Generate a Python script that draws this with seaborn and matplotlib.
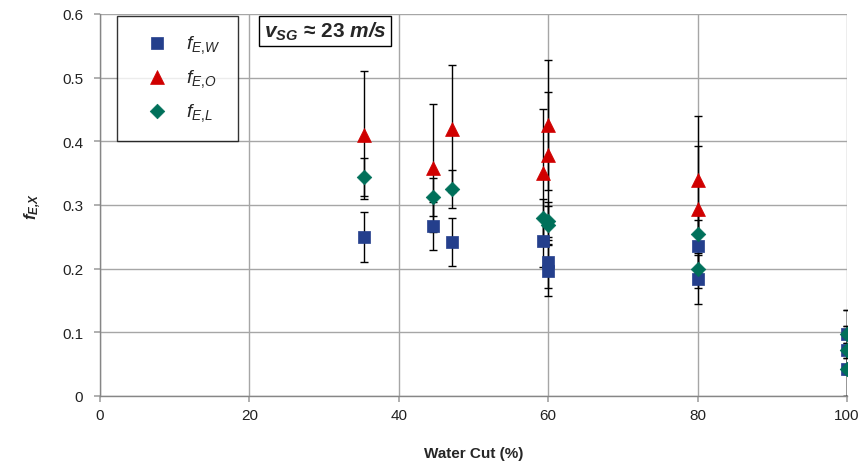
import numpy as np
import pandas as pd
import matplotlib
matplotlib.use("Agg")
import matplotlib.pyplot as plt
import seaborn as sns

# ---- data ----
water_cut = [35.4, 44.6, 47.1, 59.3, 60.0, 60.0, 80.0, 80.0, 100.0, 100.0, 100.0]
f_ew = [0.250, 0.267, 0.242, 0.243, 0.210, 0.197, 0.236, 0.183, 0.097, 0.072, 0.042]
f_ew_err = [0.039, 0.038, 0.038, 0.040, 0.040, 0.040, 0.040, 0.038, 0.038, 0.038, 0.042]
f_eo = [0.410, 0.358, 0.420, 0.350, 0.425, 0.378, 0.340, 0.293, np.nan, np.nan, np.nan]
f_eo_err = [0.100, 0.100, 0.100, 0.100, 0.102, 0.100, 0.100, 0.100, np.nan, np.nan, np.nan]
f_el = [0.344, 0.312, 0.325, 0.280, 0.275, 0.268, 0.254, 0.200, 0.097, 0.072, 0.042]
f_el_err = [0.030, 0.030, 0.030, 0.030, 0.030, 0.030, 0.030, 0.030, 0.038, 0.038, 0.042]

series_names = ["$f_{E{,}W}$", "$f_{E{,}O}$", "$f_{E{,}L}$"]
colors = ["#243F8C", "#D00000", "#00705A"]
markers = ["s", "^", "D"]
sizes = [80, 100, 55]

sns.set_theme(style="white")
plt.rcParams['font.family'] = ['Liberation Sans', 'DejaVu Sans']
plt.rcParams['mathtext.fontset'] = 'custom'
plt.rcParams['mathtext.rm'] = 'Liberation Sans'
plt.rcParams['mathtext.it'] = 'Liberation Sans:italic'
plt.rcParams['mathtext.bf'] = 'Liberation Sans:italic:bold'

fig = plt.figure(figsize=(8.6, 4.64), dpi=100)
ax = fig.add_axes([0.1163, 0.1444, 0.8686, 0.8233])

frames = []
for name, vals in zip(series_names, [f_ew, f_eo, f_el]):
    frames.append(pd.DataFrame({"x": water_cut, "y": vals, "series": name}))
df = pd.concat(frames, ignore_index=True).dropna()

# error bars (black, capped)
for vals, errs in zip([f_ew, f_eo, f_el], [f_ew_err, f_eo_err, f_el_err]):
    v = np.array(vals, dtype=float)
    e = np.array(errs, dtype=float)
    m = ~np.isnan(v)
    ax.errorbar(np.array(water_cut)[m], v[m], yerr=e[m], fmt='none',
                ecolor='black', elinewidth=1.0, capsize=3, capthick=1.0, zorder=2)

for name, c, mk, s in zip(series_names, colors, markers, sizes):
    sub = df[df["series"] == name]
    sns.scatterplot(data=sub, x="x", y="y", ax=ax, color=c, marker=mk, s=s,
                    edgecolor=c, linewidth=0.5, label=name, zorder=3)

ax.set_xlim(0, 100)
ax.set_ylim(0, 0.6)
ax.set_xticks([0, 20, 40, 60, 80, 100])
ax.set_yticks([0, 0.1, 0.2, 0.3, 0.4, 0.5, 0.6])
ax.set_yticklabels(["0", "0.1", "0.2", "0.3", "0.4", "0.5", "0.6"])
ax.grid(True, color="#A6A6A6", linewidth=1.0)
ax.set_axisbelow(True)
for side in ["top", "right"]:
    ax.spines[side].set_visible(False)
for side in ["left", "bottom"]:
    ax.spines[side].set_color("#868686")
    ax.spines[side].set_linewidth(1.0)
ax.tick_params(axis="both", labelsize=11, colors="#222222", length=4,
               color="#A6A6A6", direction="out", bottom=True, left=True)
ax.tick_params(axis="x", pad=5)
ax.tick_params(axis="y", pad=8)

ax.set_xlabel("Water Cut (%)", fontsize=11, fontweight="bold", labelpad=17)
ax.set_ylabel(r"$\mathbf{f_{E{,}X}}$", fontsize=12, labelpad=14)

leg = ax.legend(loc="upper left", bbox_to_anchor=(0.023, 0.995), frameon=True,
                fancybox=False, edgecolor="black", fontsize=14,
                labelspacing=0.62, borderpad=0.9, handletextpad=0.35,
                borderaxespad=0.0, handlelength=2.3)
leg.get_frame().set_linewidth(1.0)

ax.text(0.219, 0.985, r"$\mathbf{v_{SG}}$ ≈ 23 $\mathbf{m/s}$",
        transform=ax.transAxes, fontsize=15, fontweight="bold",
        ha="left", va="top",
        bbox=dict(boxstyle="square,pad=0.2", facecolor="white",
                  edgecolor="black", linewidth=1.0))

fig.savefig("out.png", dpi=100)
